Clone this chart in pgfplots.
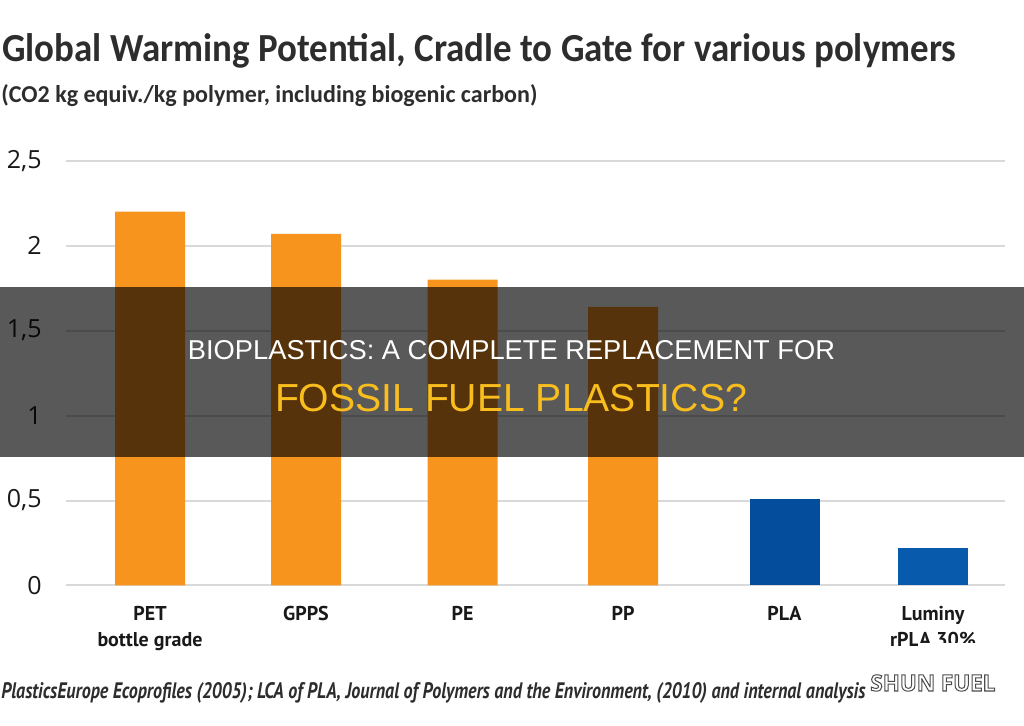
\documentclass[border=0pt]{standalone}
\usepackage{graphicx}
\usepackage{pgfplots}
\pgfplotsset{compat=1.18}
\usepackage{fontspec}
\setmainfont{Open Sans}
\newfontfamily\titlefont{Carlito}
\newfontfamily\catfont{PT Sans}
\newfontfamily\bandfont{Liberation Sans}
\newfontfamily\logofont{Open Sans}

\definecolor{barorange}{RGB}{247,148,30}
\definecolor{barblue}{RGB}{4,76,156}
\definecolor{barblueb}{RGB}{8,90,172}
\definecolor{gridgray}{RGB}{217,217,217}
\definecolor{titlegray}{RGB}{45,45,45}
\definecolor{ticktext}{RGB}{25,25,25}
\definecolor{bandyellow}{RGB}{249,190,30}

% white letters with a thin dark outline (text render mode 2: fill, then stroke)
\newcommand{\outlined}[1]{%
  \special{pdf:literal direct 2 Tr 0.45 w 0.3 0.3 0.3 RG}#1\special{pdf:literal direct 0 Tr}}

\begin{document}
\begin{tikzpicture}
\path[use as bounding box, fill=white] (0,0) rectangle (512pt,-363pt);

% heading and subheading
\begin{scope}[x=0.5pt, y=-0.5pt]
  \node[anchor=base west, inner sep=0pt, text=titlegray, font=\titlefont\bfseries]
    at (2,62) {\resizebox{477pt}{14pt}{Global Warming Potential, Cradle to Gate for various polymers}};
  \node[anchor=base west, inner sep=0pt, text=titlegray, font=\titlefont\bfseries]
    at (1,103) {\resizebox{268pt}{9pt}{(CO2 kg equiv./kg polymer, including biogenic carbon)}};
\end{scope}

\begin{axis}[
  at={(33pt,-292.75pt)}, anchor=south west,
  scale only axis, width=469.5pt, height=212.4pt,
  xmin=66, xmax=1005, ymin=0, ymax=2.5,
  axis line style={draw=none}, major tick style={draw=none},
  ytick={0,0.5,1,1.5,2,2.5},
  yticklabels={0,{0,5},1,{1,5},2,{2,5}},
  yticklabel style={anchor=east, inner sep=0pt, xshift=-12pt,
    font=\fontsize{12.5}{14}\selectfont, text=ticktext},
  ymajorgrids, major grid style={draw=gridgray, line width=1pt},
  xtick={150,306,462.5,623,784.5,933},
  xticklabels={{PET\\bottle grade},GPPS,PE,PP,PLA,{Luminy\\rPLA 30\%}},
  xticklabel style={anchor=north, inner sep=0pt, yshift=-10pt, align=center,
    font=\catfont\bfseries\fontsize{10}{13}\selectfont, text=ticktext},
  clip=false,
]
\addplot[ybar, bar width=35pt, bar shift=0pt, fill=barorange, draw=none]
  coordinates {(150,2.2) (306,2.07) (462.5,1.8) (623,1.64)};
\addplot[ybar, bar width=35pt, bar shift=0pt, fill=barblue, draw=none]
  coordinates {(784.5,0.51)};
\addplot[ybar, bar width=35pt, bar shift=0pt, fill=barblueb, draw=none]
  coordinates {(933,0.22)};
\end{axis}

\begin{scope}[x=0.5pt, y=-0.5pt]
  % chart panel ends here on the right
  \fill[white] (918,643) rectangle (1024,726);
  % banner across the chart
  \fill[black, opacity=0.65] (0,287) rectangle (1024,457);
  \node[inner sep=0pt, text=white, font=\bandfont] at (511.5,350)
    {\resizebox{323.5pt}{!}{BIOPLASTICS: A COMPLETE REPLACEMENT FOR}};
  \node[inner sep=0pt, text=bandyellow, font=\bandfont] at (511,398.5)
    {\resizebox{236pt}{!}{FOSSIL FUEL PLASTICS?}};
  % source line
  \node[anchor=base west, inner sep=0pt, text=titlegray, font=\catfont\bfseries\itshape]
    at (1,699) {\resizebox{432pt}{8pt}{PlasticsEurope Ecoprofiles (2005); LCA of PLA, Journal of Polymers and the Environment, (2010) and internal analysis}};
  % logo
  \node[anchor=base west, inner sep=0pt, text=white, font=\logofont\bfseries]
    at (870,691) {\outlined{\resizebox{62.5pt}{!}{SHUN FUEL}}};
\end{scope}
\end{tikzpicture}
\end{document}
